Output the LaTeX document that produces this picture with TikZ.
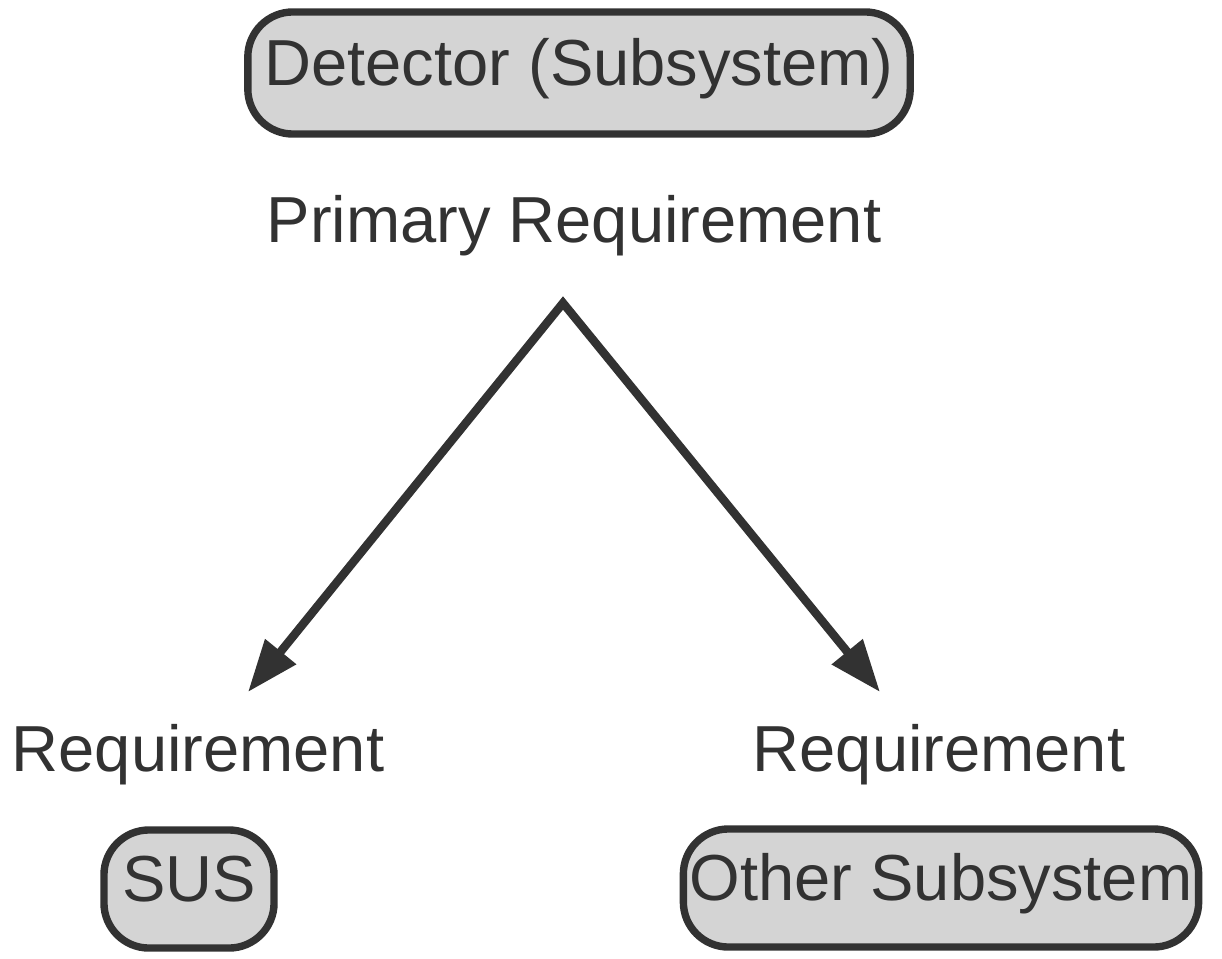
\documentclass[tikz,border=0pt]{standalone}
\usepackage{fontspec}
\setmainfont{Liberation Sans}
\usepackage{tikz}
\usetikzlibrary{arrows.meta}
\definecolor{inkgray}{RGB}{50,50,50}
\definecolor{shadegray}{RGB}{212,212,212}
\newcommand{\labelsize}{\fontsize{18.5pt}{22pt}\selectfont}
\tikzset{
    common/.style={text=inkgray, font=\labelsize},
    subsys/.style={common, draw=inkgray, fill=shadegray, line width=2.1pt, rounded corners=0.45cm,
        minimum height=1.18cm, inner sep=0pt, text height=0.716em, text depth=0pt},
    req/.style={common, anchor=base},
    flow/.style={draw=inkgray, line width=2.4pt, line join=miter,
        {Triangle[length=0.52cm, width=0.38cm]}-{Triangle[length=0.52cm, width=0.38cm]}}
}
\begin{document}
\begin{tikzpicture}[x=0.01cm, y=-0.01cm]
    \useasboundingbox (0,0) rectangle (1222,958);

    \node[subsys, minimum width=6.62cm, minimum height=1.22cm] (detector) at (579,73) {Detector (Subsystem)};
    \node[req] (primary) at (574,243) {Primary Requirement};

    \node[req] (req-sus) at (198,771) {Requirement};
    \node[req] (req-other) at (939,771) {Requirement};

    \node[subsys, minimum width=1.70cm] (sus) at (189,889) {SUS};
    \node[subsys, minimum width=5.15cm] (other) at (941,888) {Other Subsystem};

    % split of the primary requirement, one path so the apex is mitred
    \coordinate (apex) at (563,303);
    \coordinate (tip-sus) at (248,692);
    \coordinate (tip-other) at (880,692);
    \draw[flow] (tip-sus) -- (apex) -- (tip-other);
\end{tikzpicture}
\end{document}
